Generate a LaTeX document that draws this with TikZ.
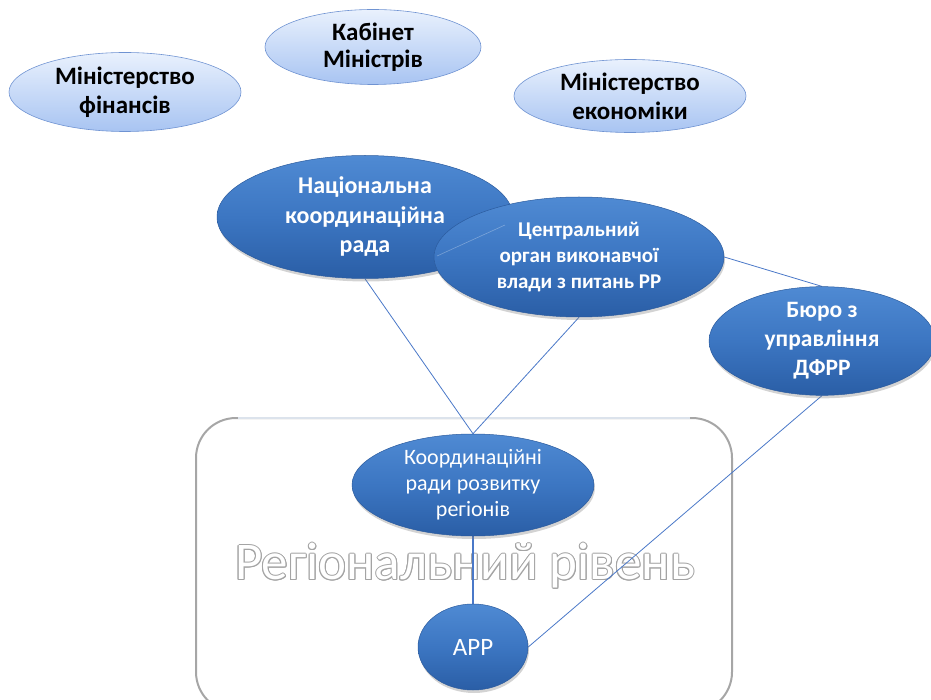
\documentclass[tikz,border=0pt]{standalone}
\usepackage{fontspec}
\setmainfont{Carlito}
\usetikzlibrary{shapes.geometric,shadows,backgrounds}
\pgfdeclarelayer{lines}
\pgfsetlayers{background,lines,main}
\definecolor{lightTop}{HTML}{E9F1FD}
\definecolor{lightBot}{HTML}{A8C4F2}
\definecolor{lightRim}{HTML}{6F93D2}
\definecolor{darkTop}{HTML}{4F8AD3}
\definecolor{darkMid}{HTML}{3C76C2}
\definecolor{darkBot}{HTML}{2A5EA6}
\definecolor{darkRim}{HTML}{2B5B9E}
\definecolor{linkBlue}{HTML}{4A78C8}
\definecolor{frameGray}{HTML}{A6A6A6}
\definecolor{frameTop}{HTML}{DCE3EC}
\definecolor{textGray}{HTML}{A4A4A4}
\tikzset{
  lightell/.style={ellipse, draw=lightRim, line width=0.6pt, top color=lightTop, bottom color=lightBot,
    inner sep=0pt, align=center, font=\fontsize{25}{29}\selectfont\bfseries, text=black},
  darkell/.style={ellipse, draw=darkRim, line width=0.5pt, top color=darkTop, bottom color=darkBot, middle color=darkMid,
    inner sep=0pt, align=center, text=white,
    drop shadow={opacity=0.35, shadow xshift=1pt, shadow yshift=-3pt}},
  link/.style={draw=linkBlue, line width=0.8pt},
}
\newcommand{\outlinedtext}[1]{%
  \foreach \ang in {0,30,...,330}{\node[text=textGray, font=\fontsize{53}{60}\selectfont] at ([shift={(\ang:1pt)}]bigtxt) {#1};}%
  \node[text=white, font=\fontsize{53}{60}\selectfont] at (bigtxt) {#1};}
\begin{document}
\begin{tikzpicture}[x=1pt, y=-1pt]
\useasboundingbox (0,0) rectangle (931,700);
% top ellipses
\node[lightell, minimum width=232pt, minimum height=79pt] (minfin) at (125,92) {Міністерство\\фінансів};
\node[lightell, minimum width=216pt, minimum height=75pt, font=\fontsize{25}{27}\selectfont\bfseries] (kabmin) at (373,47) {Кабінет\\Міністрів};
\node[lightell, minimum width=232pt, minimum height=73pt] (mineco) at (630,96) {Міністерство\\економіки};
% dark ellipses
\node[darkell, minimum width=296pt, minimum height=123pt, font=\fontsize{24}{29.5}\selectfont\bfseries] (nat) at (365,217) {Національна\\координаційна\\рада};
\node[darkell, minimum width=290pt, minimum height=120pt, font=\fontsize{21}{26}\selectfont\bfseries] (cen) at (579,257) {Центральний\\орган виконавчої\\влади з питань РР};
\node[darkell, minimum width=226pt, minimum height=92pt, font=\fontsize{23.5}{29}\selectfont\bfseries] (bur) at (822,341) {Бюро з\\управління\\ДФРР};
\node[darkell, minimum width=242pt, minimum height=102pt, font=\fontsize{22}{26}\selectfont] (kr) at (473,485) {Координаційні\\ради розвитку\\регіонів};
\node[darkell, minimum width=110pt, minimum height=86pt, font=\fontsize{25}{28}\selectfont] (arr) at (473,647) {АРР};
% faint connector inside the central ellipse
\coordinate (fa) at (437,256);
\coordinate (fb) at (505,225);
\draw[draw=white, opacity=0.3, line width=0.6pt] (fa) -- (fb);
% background: frame and big text
\begin{pgfonlayer}{background}
  \coordinate (frA) at (196,418);
  \coordinate (frB) at (732,712);
  \draw[frameGray, line width=2pt, rounded corners=40pt] (frA) rectangle (frB);
  \coordinate (ftA) at (238,418);
  \coordinate (ftB) at (690,418);
  \draw[frameTop, line width=2.4pt] (ftA) -- (ftB);
  \coordinate (bigtxt) at (465,566);
  \outlinedtext{Регіональний рівень}
\end{pgfonlayer}
% connectors
\begin{pgfonlayer}{lines}
  \draw[link] (nat.south) -- (kr.north);
  \draw[link] (cen.south) -- (kr.north);
  \draw[link] (cen.east) -- (bur.north);
  \draw[link] (bur.south) -- (arr.east);
  \draw[link, line width=1.6pt] (kr.south) -- (arr.north);
\end{pgfonlayer}
\end{tikzpicture}
\end{document}
